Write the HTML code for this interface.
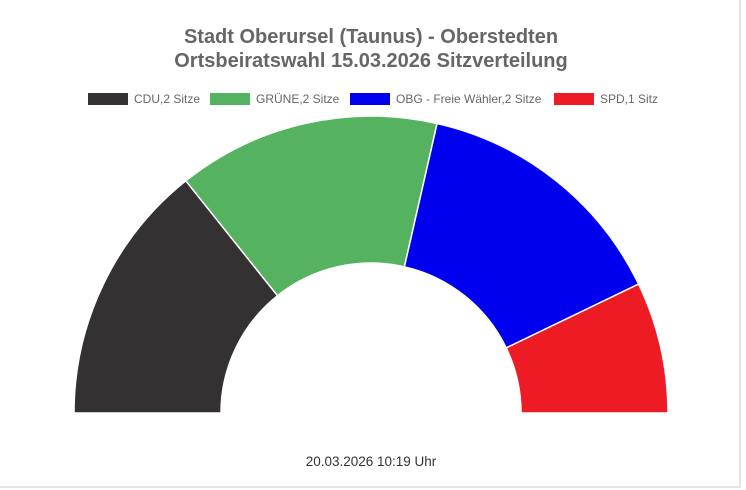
<!DOCTYPE html><html><head><style>body{margin:0;background:#fff}svg{display:block}text{font-family:"Liberation Sans",Arial,sans-serif}</style></head><body>
<svg width="746" height="490" viewBox="0 0 746 490">
<path d="M740 0 V487 H0" fill="none" stroke="#ddd" stroke-width="1.5"/>
<text x="371" y="43" text-anchor="middle" font-size="20" font-weight="bold" fill="#666">Stadt Oberursel (Taunus) - Oberstedten</text>
<text x="371" y="67" text-anchor="middle" font-size="20" font-weight="bold" fill="#666">Ortsbeiratswahl 15.03.2026 Sitzverteilung</text>
<g font-size="12" fill="#666">
<rect x="88" y="93" width="40" height="12" fill="#333132"/><text x="134" y="103">CDU,2 Sitze</text>
<rect x="210" y="93" width="40" height="12" fill="#55b260"/><text x="256" y="103">GRÜNE,2 Sitze</text>
<rect x="350" y="93" width="40" height="12" fill="#0000ee"/><text x="396" y="103">OBG - Freie Wähler,2 Sitze</text>
<rect x="554" y="93" width="40" height="12" fill="#ed1c24"/><text x="600" y="103">SPD,1 Sitz</text>
</g>
<g stroke="#fff" stroke-width="1.5">
<path d="M74 413 A297 297 0 0 1 185.8 180.8 L277.5 295.7 A150 150 0 0 0 221 413Z" fill="#333132"/>
<path d="M185.8 180.8 A297 297 0 0 1 437.1 123.5 L404.4 266.8 A150 150 0 0 0 277.5 295.7Z" fill="#55b260"/>
<path d="M437.1 123.5 A297 297 0 0 1 638.6 284.1 L506.2 347.9 A150 150 0 0 0 404.4 266.8Z" fill="#0000ee"/>
<path d="M638.6 284.1 A297 297 0 0 1 668 413 L521 413 A150 150 0 0 0 506.2 347.9Z" fill="#ed1c24"/>
</g>
<text x="371" y="466" text-anchor="middle" font-size="13.5" fill="#333">20.03.2026 10:19 Uhr</text>
</svg></body></html>
